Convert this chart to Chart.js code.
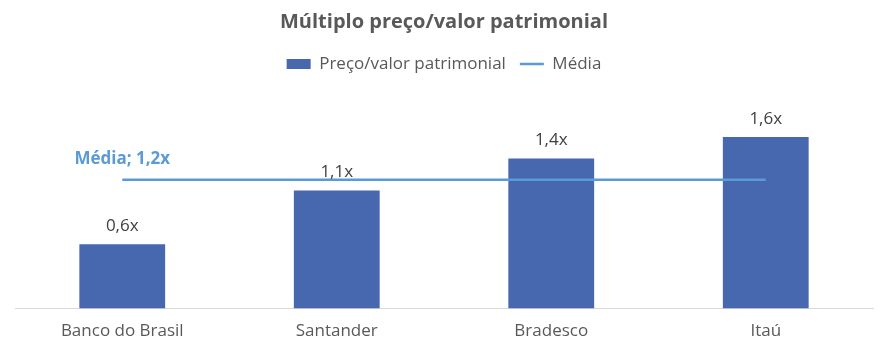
<!DOCTYPE html>
<html><head><meta charset="utf-8">
<script src="https://cdn.jsdelivr.net/npm/chart.js@4/dist/chart.umd.min.js"></script>
<style>html,body{margin:0;padding:0;background:#fff}#wrap{width:886px;height:351px}</style>
</head><body><div id="wrap"><canvas id="c" width="886" height="351"></canvas></div>
<script>
const categories = ["Banco do Brasil", "Santander", "Bradesco", "Itaú"];
const pvp = [0.6, 1.1, 1.4, 1.6];
const media = [1.2, 1.2, 1.2, 1.2];
const mediaLabel = "Média; 1,2x";
const FONT = "'Open Sans', sans-serif";
const fmt = v => v.toFixed(1).replace('.', ',') + 'x';

const labelsPlugin = {
  id: 'valueLabels',
  afterDatasetsDraw(chart) {
    const ctx = chart.ctx;
    ctx.save();
    const barMeta = chart.getDatasetMeta(0);
    ctx.font = "17px " + FONT;
    ctx.fillStyle = "#404040";
    ctx.textAlign = "center";
    ctx.textBaseline = "middle";
    barMeta.data.forEach((el, i) => {
      ctx.fillText(fmt(pvp[i]), el.x, el.y - 18);
    });
    const lineMeta = chart.getDatasetMeta(1);
    const p = lineMeta.data[0];
    ctx.font = "bold 17px " + FONT;
    ctx.fillStyle = "#5B9BD5";
    ctx.fillText(mediaLabel, p.x, p.y - 21);
    ctx.restore();
  }
};

const legendMargin = {
  id: 'legendMargin',
  beforeInit(chart) {
    const orig = chart.legend.fit;
    chart.legend.fit = function () { orig.call(this); this.height += 11.5; };
  }
};

new Chart(document.getElementById('c'), {
  type: 'bar',
  data: {
    labels: categories,
    datasets: [
      { type: 'bar', label: 'Preço/valor patrimonial', data: pvp, backgroundColor: '#4767AF',
        borderWidth: 0, order: 1, barPercentage: 0.4, categoryPercentage: 1, pointStyle: 'rect' },
      { type: 'line', label: 'Média', data: media, borderColor: '#5B9BD5', backgroundColor: '#5B9BD5',
        borderWidth: 2.5, pointRadius: 0, pointStyle: 'line', order: 0, fill: false }
    ]
  },
  options: {
    responsive: false,
    animation: false,
    layout: { padding: { left: 15, right: 13, top: 0, bottom: -2 } },
    plugins: {
      title: { display: true, text: 'Múltiplo preço/valor patrimonial', color: '#595959',
        font: { family: FONT, size: 20, weight: 'bold' }, padding: { top: 10, bottom: 7.5 } },
      legend: { display: true, position: 'top',
        labels: { color: '#595959', font: { family: FONT, size: 17 }, usePointStyle: true,
          pointStyleWidth: 24, boxHeight: 10, padding: 14,
          sort: (a, b) => a.datasetIndex - b.datasetIndex } },
      tooltip: { enabled: false }
    },
    scales: {
      x: { grid: { display: false, drawTicks: false }, border: { color: '#D9D9D9', width: 1 },
        ticks: { color: '#595959', font: { family: FONT, size: 17 }, padding: 12 } },
      y: { display: false, min: 0, max: 2 }
    }
  },
  plugins: [labelsPlugin, legendMargin]
});
</script></body></html>
